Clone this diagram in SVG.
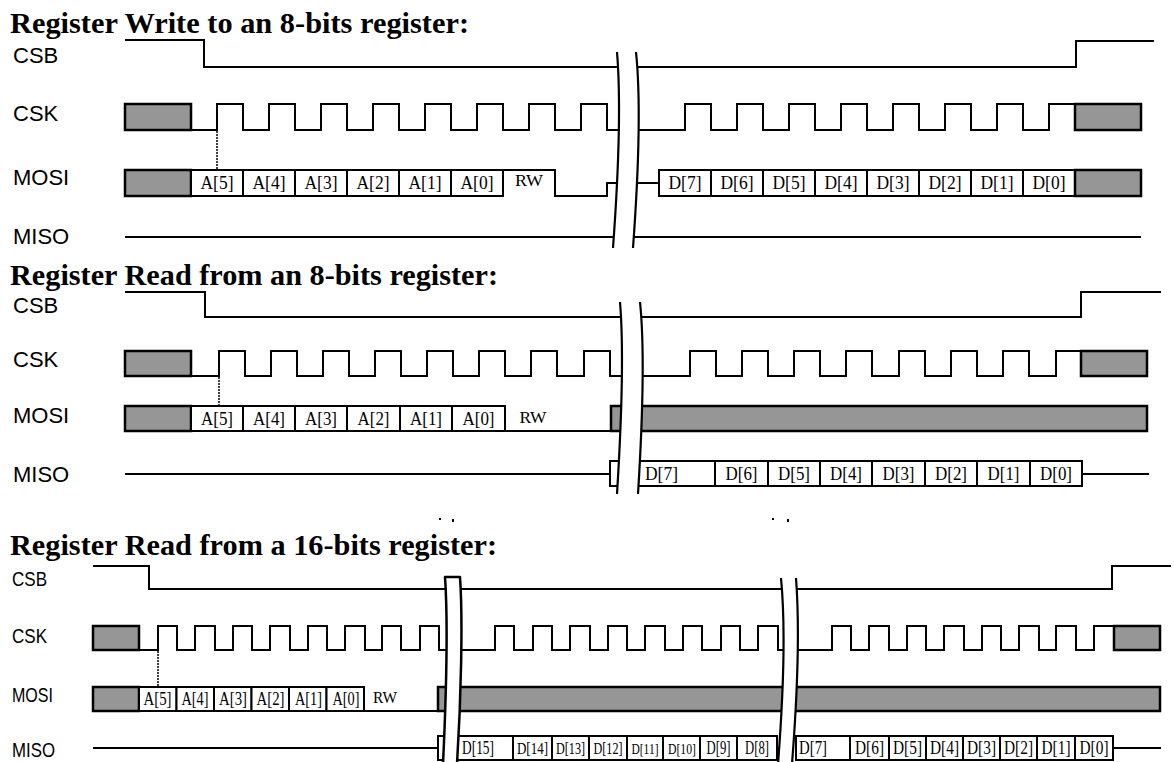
<svg xmlns="http://www.w3.org/2000/svg" width="1174" height="762" viewBox="0 0 1174 762">
<style>
.w{fill:none;stroke:#000;stroke-width:2}
.d{fill:none;stroke:#000;stroke-width:1.5;stroke-dasharray:2,1}
.g{fill:#969696;stroke:#000;stroke-width:2.5}
.b{fill:#fff;stroke:#000;stroke-width:2}
.m{fill:#fff;stroke:none}
.c{fill:none;stroke:#000;stroke-width:2.2}
.ttl{font-family:"Liberation Serif","Times New Roman",serif;font-weight:bold;font-size:29px;fill:#000}
.lb{font-family:"Liberation Sans",Arial,sans-serif;font-size:22px;fill:#000}
.lb3{font-family:"Liberation Sans",Arial,sans-serif;font-size:21px;fill:#000}
.t{font-family:"Liberation Serif","Times New Roman",serif;font-size:19px;fill:#000;text-anchor:middle}
.ts{font-family:"Liberation Serif","Times New Roman",serif;font-size:18px;fill:#000;text-anchor:middle}
.tn{font-family:"Liberation Serif","Times New Roman",serif;font-size:16px;fill:#000;text-anchor:middle}
.tl{font-family:"Liberation Serif","Times New Roman",serif;font-size:19px;fill:#000}
.tsl{font-family:"Liberation Serif","Times New Roman",serif;font-size:18px;fill:#000}
.rw{font-family:"Liberation Serif","Times New Roman",serif;font-size:16px;fill:#000;text-anchor:middle}
</style>

<!-- ========== Section 1: Register Write ========== -->
<g id="write8">
<text class="ttl" x="10" y="33" textLength="459" lengthAdjust="spacingAndGlyphs">Register Write to an 8-bits register:</text>
<g id="w8-labels">
<text class="lb" x="13" y="63">CSB</text>
<text class="lb" x="13" y="121">CSK</text>
<text class="lb" x="13" y="185">MOSI</text>
<text class="lb" x="13" y="244">MISO</text>
</g>
<g id="w8-signals">
<path class="w" d="M125,40 H204 V67 H1076 V41 H1154"/>
<rect class="g" x="125" y="104" width="66" height="26"/>
<path class="w" d="M191,130 H217 V104 H243 V130 H269 V104 H295 V130 H321 V104 H347 V130 H373 V104 H399 V130 H425 V104 H451 V130 H477 V104 H503 V130 H529 V104 H555 V130 H581 V104 H607 V130 H685 V104 H711 V130 H737 V104 H763 V130 H789 V104 H815 V130 H841 V104 H867 V130 H893 V104 H919 V130 H945 V104 H971 V130 H997 V104 H1023 V130 H1049 V104 H1075"/>
<rect class="g" x="1075" y="104" width="66" height="26"/>
<path class="d" d="M217,131 V169"/>
<rect class="g" x="125" y="170" width="66" height="26"/>
<rect class="b" x="191" y="170" width="52" height="26"/>
<rect class="b" x="243" y="170" width="52" height="26"/>
<rect class="b" x="295" y="170" width="52" height="26"/>
<rect class="b" x="347" y="170" width="52" height="26"/>
<rect class="b" x="399" y="170" width="52" height="26"/>
<rect class="b" x="451" y="170" width="52" height="26"/>
<text class="t" x="217" y="189" textLength="33" lengthAdjust="spacingAndGlyphs">A[5]</text>
<text class="t" x="269" y="189" textLength="33" lengthAdjust="spacingAndGlyphs">A[4]</text>
<text class="t" x="321" y="189" textLength="33" lengthAdjust="spacingAndGlyphs">A[3]</text>
<text class="t" x="373" y="189" textLength="33" lengthAdjust="spacingAndGlyphs">A[2]</text>
<text class="t" x="425" y="189" textLength="33" lengthAdjust="spacingAndGlyphs">A[1]</text>
<text class="t" x="477" y="189" textLength="33" lengthAdjust="spacingAndGlyphs">A[0]</text>
<path class="w" d="M503,170 H555 V196 H607 V183 H659"/>
<text class="rw" x="529" y="186" textLength="28" lengthAdjust="spacingAndGlyphs">RW</text>
<rect class="b" x="659" y="170" width="52" height="26"/>
<rect class="b" x="711" y="170" width="52" height="26"/>
<rect class="b" x="763" y="170" width="52" height="26"/>
<rect class="b" x="815" y="170" width="52" height="26"/>
<rect class="b" x="867" y="170" width="52" height="26"/>
<rect class="b" x="919" y="170" width="52" height="26"/>
<rect class="b" x="971" y="170" width="52" height="26"/>
<rect class="b" x="1023" y="170" width="52" height="26"/>
<text class="t" x="685" y="189" textLength="33" lengthAdjust="spacingAndGlyphs">D[7]</text>
<text class="t" x="737" y="189" textLength="33" lengthAdjust="spacingAndGlyphs">D[6]</text>
<text class="t" x="789" y="189" textLength="33" lengthAdjust="spacingAndGlyphs">D[5]</text>
<text class="t" x="841" y="189" textLength="33" lengthAdjust="spacingAndGlyphs">D[4]</text>
<text class="t" x="893" y="189" textLength="33" lengthAdjust="spacingAndGlyphs">D[3]</text>
<text class="t" x="945" y="189" textLength="33" lengthAdjust="spacingAndGlyphs">D[2]</text>
<text class="t" x="997" y="189" textLength="33" lengthAdjust="spacingAndGlyphs">D[1]</text>
<text class="t" x="1049" y="189" textLength="33" lengthAdjust="spacingAndGlyphs">D[0]</text>
<rect class="g" x="1075" y="170" width="66" height="26"/>
<path class="w" d="M125,237 H1141"/>
</g>
<g id="w8-break">
<path class="m" d="M617,52 C621,100 618,180 613,248 L633,248 C638,180 641,100 636,52 Z"/>
<path class="c" d="M617,52 C621,100 618,180 613,248"/>
<path class="c" d="M636,52 C641,100 638,180 633,248"/>
</g>
</g>

<!-- ========== Section 2: Register Read 8-bit ========== -->
<g id="read8">
<text class="ttl" x="10" y="285" textLength="488" lengthAdjust="spacingAndGlyphs">Register Read from an 8-bits register:</text>
<g id="r8-labels">
<text class="lb" x="13" y="313">CSB</text>
<text class="lb" x="13" y="367">CSK</text>
<text class="lb" x="13" y="423">MOSI</text>
<text class="lb" x="13" y="482">MISO</text>
</g>
<g id="r8-signals">
<path class="w" d="M125,292 H205 V317 H1081 V292 H1161"/>
<rect class="g" x="125" y="351" width="66" height="25"/>
<path class="w" d="M191,376 H219 V351 H245 V376 H271 V351 H297 V376 H323 V351 H349 V376 H375 V351 H401 V376 H427 V351 H453 V376 H479 V351 H505 V376 H531 V351 H557 V376 H584 V351 H610 V376 H690 V351 H716 V376 H742 V351 H768 V376 H794 V351 H820 V376 H846 V351 H872 V376 H899 V351 H925 V376 H951 V351 H977 V376 H1003 V351 H1029 V376 H1056 V351 H1081"/>
<rect class="g" x="1081" y="351" width="66" height="25"/>
<path class="d" d="M219,377 V405"/>
<rect class="g" x="125" y="406" width="66" height="25"/>
<rect class="b" x="191" y="406" width="52" height="25"/>
<rect class="b" x="243" y="406" width="52" height="25"/>
<rect class="b" x="295" y="406" width="52" height="25"/>
<rect class="b" x="347" y="406" width="53" height="25"/>
<rect class="b" x="400" y="406" width="52" height="25"/>
<rect class="b" x="452" y="406" width="53" height="25"/>
<text class="t" x="217" y="425" textLength="32" lengthAdjust="spacingAndGlyphs">A[5]</text>
<text class="t" x="269" y="425" textLength="32" lengthAdjust="spacingAndGlyphs">A[4]</text>
<text class="t" x="321" y="425" textLength="32" lengthAdjust="spacingAndGlyphs">A[3]</text>
<text class="t" x="373.5" y="425" textLength="32" lengthAdjust="spacingAndGlyphs">A[2]</text>
<text class="t" x="426" y="425" textLength="32" lengthAdjust="spacingAndGlyphs">A[1]</text>
<text class="t" x="478.5" y="425" textLength="32" lengthAdjust="spacingAndGlyphs">A[0]</text>
<path class="w" d="M505,431 H611"/>
<text class="rw" x="533" y="423" textLength="27" lengthAdjust="spacingAndGlyphs">RW</text>
<rect class="g" x="611" y="406" width="536" height="25"/>
<path class="w" d="M125,474 H610"/>
<rect class="b" x="610" y="461" width="105" height="25"/>
<rect class="b" x="715" y="461" width="53" height="25"/>
<rect class="b" x="768" y="461" width="52" height="25"/>
<rect class="b" x="820" y="461" width="52" height="25"/>
<rect class="b" x="872" y="461" width="53" height="25"/>
<rect class="b" x="925" y="461" width="52" height="25"/>
<rect class="b" x="977" y="461" width="53" height="25"/>
<rect class="b" x="1030" y="461" width="52" height="25"/>
<path class="w" d="M1082,474 H1149"/>
<text class="tl" x="645" y="480" textLength="33" lengthAdjust="spacingAndGlyphs">D[7]</text>
<text class="t" x="741.5" y="480" textLength="32" lengthAdjust="spacingAndGlyphs">D[6]</text>
<text class="t" x="794" y="480" textLength="32" lengthAdjust="spacingAndGlyphs">D[5]</text>
<text class="t" x="846" y="480" textLength="32" lengthAdjust="spacingAndGlyphs">D[4]</text>
<text class="t" x="898.5" y="480" textLength="32" lengthAdjust="spacingAndGlyphs">D[3]</text>
<text class="t" x="951" y="480" textLength="32" lengthAdjust="spacingAndGlyphs">D[2]</text>
<text class="t" x="1003.5" y="480" textLength="32" lengthAdjust="spacingAndGlyphs">D[1]</text>
<text class="t" x="1056" y="480" textLength="32" lengthAdjust="spacingAndGlyphs">D[0]</text>
</g>
<g id="r8-break">
<path class="m" d="M620,302 C624,350 621,430 617,494 L638,494 C642,430 645,350 640,302 Z"/>
<path class="c" d="M620,302 C624,350 621,430 617,494"/>
<path class="c" d="M640,302 C645,350 642,430 638,494"/>
</g>
</g>

<!-- stray marks -->
<g id="marks" fill="#000">
<rect x="439" y="518" width="2" height="2"/>
<rect x="452" y="519" width="2" height="3"/>
<rect x="772" y="518" width="2" height="2"/>
<rect x="787" y="519" width="2" height="3"/>
</g>

<!-- ========== Section 3: Register Read 16-bit ========== -->
<g id="read16">
<text class="ttl" x="10" y="555" textLength="487" lengthAdjust="spacingAndGlyphs">Register Read from a 16-bits register:</text>
<g id="r16-labels">
<text class="lb3" x="12" y="586" textLength="35" lengthAdjust="spacingAndGlyphs">CSB</text>
<text class="lb3" x="12" y="643" textLength="35" lengthAdjust="spacingAndGlyphs">CSK</text>
<text class="lb3" x="12" y="702" textLength="41" lengthAdjust="spacingAndGlyphs">MOSI</text>
<text class="lb3" x="12" y="757" textLength="43" lengthAdjust="spacingAndGlyphs">MISO</text>
</g>
<g id="r16-signals">
<path class="w" d="M93,566 H149 V589 H1112 V566 H1171"/>
<rect class="g" x="93" y="626" width="46" height="24"/>
<path class="w" d="M139,650 H158 V626 H177 V650 H195 V626 H215 V650 H233 V626 H252 V650 H270 V626 H290 V650 H308 V626 H327 V650 H345 V626 H365 V650 H382 V626 H401 V650 H420 V626 H439 V650 H495 V626 H514 V650 H533 V626 H552 V650 H570 V626 H590 V650 H608 V626 H627 V650 H645 V626 H665 V650 H683 V626 H702 V650 H721 V626 H740 V650 H758 V626 H778 V650 H832 V626 H851 V650 H869 V626 H889 V650 H907 V626 H926 V650 H944 V626 H964 V650 H982 V626 H1001 V650 H1019 V626 H1039 V650 H1056 V626 H1076 V650 H1094 V626 H1114"/>
<rect class="g" x="1114" y="626" width="46" height="24"/>
<path class="d" d="M158,651 V686"/>
<rect class="g" x="93" y="687" width="46" height="24"/>
<rect class="b" x="139" y="687" width="37.5" height="24"/>
<rect class="b" x="176.5" y="687" width="37.5" height="24"/>
<rect class="b" x="214" y="687" width="37.5" height="24"/>
<rect class="b" x="251.5" y="687" width="37.5" height="24"/>
<rect class="b" x="289" y="687" width="37.5" height="24"/>
<rect class="b" x="326.5" y="687" width="37.5" height="24"/>
<text class="ts" x="157.5" y="705" textLength="28" lengthAdjust="spacingAndGlyphs">A[5]</text>
<text class="ts" x="195" y="705" textLength="27" lengthAdjust="spacingAndGlyphs">A[4]</text>
<text class="ts" x="233" y="705" textLength="28" lengthAdjust="spacingAndGlyphs">A[3]</text>
<text class="ts" x="270.5" y="705" textLength="28" lengthAdjust="spacingAndGlyphs">A[2]</text>
<text class="ts" x="308.5" y="705" textLength="27" lengthAdjust="spacingAndGlyphs">A[1]</text>
<text class="ts" x="346" y="705" textLength="27" lengthAdjust="spacingAndGlyphs">A[0]</text>
<path class="w" d="M364,711 H438"/>
<text class="rw" x="385" y="703" textLength="24" lengthAdjust="spacingAndGlyphs">RW</text>
<rect class="g" x="438" y="687" width="722" height="24"/>
<path class="w" d="M93,748 H438"/>
<rect class="b" x="438" y="736" width="75" height="24"/>
<rect class="b" x="513" y="736" width="39" height="24"/>
<rect class="b" x="552" y="736" width="37" height="24"/>
<rect class="b" x="589" y="736" width="38" height="24"/>
<rect class="b" x="627" y="736" width="36" height="24"/>
<rect class="b" x="663" y="736" width="37" height="24"/>
<rect class="b" x="700" y="736" width="37" height="24"/>
<rect class="b" x="737" y="736" width="40" height="24"/>
<text class="tsl" x="462" y="754" textLength="32" lengthAdjust="spacingAndGlyphs">D[15]</text>
<text class="tn" x="532.5" y="754" textLength="31" lengthAdjust="spacingAndGlyphs">D[14]</text>
<text class="tn" x="570.5" y="754" textLength="29" lengthAdjust="spacingAndGlyphs">D[13]</text>
<text class="tn" x="608" y="754" textLength="29" lengthAdjust="spacingAndGlyphs">D[12]</text>
<text class="tn" x="645" y="754" textLength="27" lengthAdjust="spacingAndGlyphs" style="font-size:15px">D[11]</text>
<text class="tn" x="682" y="754" textLength="28" lengthAdjust="spacingAndGlyphs" style="font-size:15px">D[10]</text>
<text class="ts" x="718.5" y="754" textLength="24" lengthAdjust="spacingAndGlyphs">D[9]</text>
<text class="ts" x="757" y="754" textLength="24" lengthAdjust="spacingAndGlyphs">D[8]</text>
<rect class="b" x="796" y="736" width="54" height="24"/>
<rect class="b" x="850" y="736" width="39" height="24"/>
<rect class="b" x="889" y="736" width="37" height="24"/>
<rect class="b" x="926" y="736" width="37" height="24"/>
<rect class="b" x="963" y="736" width="37" height="24"/>
<rect class="b" x="1000" y="736" width="37" height="24"/>
<rect class="b" x="1037" y="736" width="38" height="24"/>
<rect class="b" x="1075" y="736" width="38" height="24"/>
<path class="w" d="M1113,748 H1161"/>
<text class="tsl" x="799" y="754" textLength="28" lengthAdjust="spacingAndGlyphs">D[7]</text>
<text class="ts" x="869.5" y="754" textLength="29" lengthAdjust="spacingAndGlyphs">D[6]</text>
<text class="ts" x="907.5" y="754" textLength="29" lengthAdjust="spacingAndGlyphs">D[5]</text>
<text class="ts" x="944.5" y="754" textLength="29" lengthAdjust="spacingAndGlyphs">D[4]</text>
<text class="ts" x="981.5" y="754" textLength="29" lengthAdjust="spacingAndGlyphs">D[3]</text>
<text class="ts" x="1018.5" y="754" textLength="29" lengthAdjust="spacingAndGlyphs">D[2]</text>
<text class="ts" x="1056" y="754" textLength="29" lengthAdjust="spacingAndGlyphs">D[1]</text>
<text class="ts" x="1094" y="754" textLength="29" lengthAdjust="spacingAndGlyphs">D[0]</text>
</g>
<g id="r16-break1">
<path d="M445,577 L460,577 C463,620 461,700 457,764 L443,764 C446,700 448,620 445,577 Z" fill="#fff" stroke="#000" stroke-width="2.5" stroke-linejoin="round"/>
</g>
<g id="r16-break2">
<path class="m" d="M781,578 C786,630 783,700 778,764 L792,764 C797,700 800,630 796,578 Z"/>
<path class="c" d="M781,578 C786,630 783,700 778,764"/>
<path class="c" d="M796,578 C800,630 797,700 792,764"/>
</g>
</g>
</svg>
